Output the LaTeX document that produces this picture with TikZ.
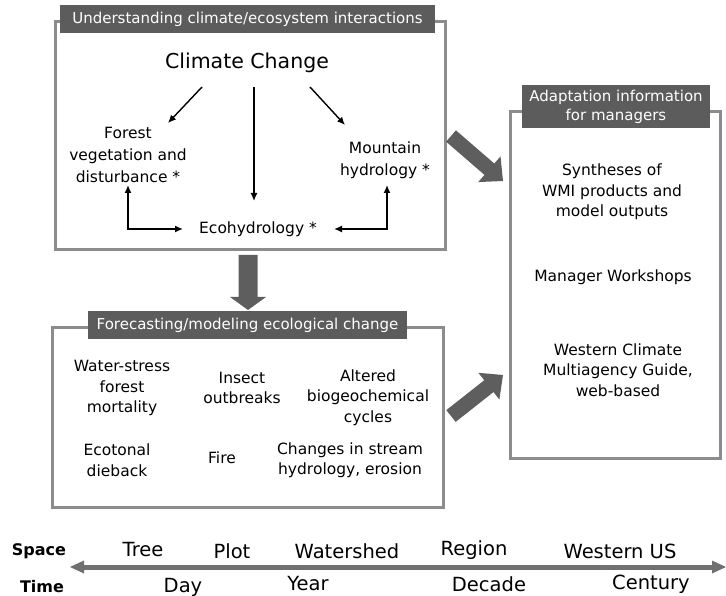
\documentclass[tikz,border=0pt]{standalone}
\usepackage{fontspec}
\setmainfont{DejaVu Sans}
\usetikzlibrary{arrows.meta,calc}
\definecolor{bordergray}{HTML}{8C8C8C}
\definecolor{bargray}{HTML}{5C5C5C}
\definecolor{arrgray}{HTML}{5E5E5E}
\definecolor{linegray}{HTML}{707070}
\newcommand\bigarr[5]{% tail, tip, shaft half width, head half width, head length
  \path ($(#2)!#5!(#1)$) coordinate (hb);
  \fill[bigarrow] ($(#1)!#3!90:(#2)$) -- ($(hb)!#3!90:(#2)$) -- ($(hb)!#4!90:(#2)$)
    -- (#2) -- ($(hb)!#4!-90:(#2)$) -- ($(hb)!#3!-90:(#2)$) -- ($(#1)!#3!-90:(#2)$) -- cycle;}
\tikzset{
  frame/.style={draw=bordergray, line width=3pt, rectangle, inner sep=0pt},
  titlebar/.style={fill=bargray, text=white, font=\fontsize{15}{19}\selectfont, align=center, inner sep=0pt},
  body/.style={font=\fontsize{15.5}{20.5}\selectfont, align=center, inner sep=0pt},
  arr/.style={line width=1.4pt, -{Latex[length=8pt,width=7pt]}},
  arrboth/.style={line width=1.4pt, {Latex[length=8pt,width=7pt]}-{Latex[length=8pt,width=7pt]}},
  bigarrow/.style={fill=arrgray},
  scaletext/.style={font=\fontsize{19.5}{22}\selectfont, inner sep=0pt},
  axislabel/.style={font=\bfseries\fontsize{16}{20}\selectfont, inner sep=0pt},
}
\begin{document}
\begin{tikzpicture}[x=1pt,y=-1pt]
\useasboundingbox (0,0) rectangle (726,596);

% ---- top box
\node[frame, minimum width=390pt, minimum height=228pt] (topbox) at (250,136) {};
\node[titlebar, minimum width=375pt, minimum height=28pt] (toptitle) at (247.5,19) {Understanding climate/ecosystem interactions};
\node[font=\fontsize{20.5}{24}\selectfont, inner sep=0pt] (cc) at (247,63) {Climate Change};
\node[body, font=\fontsize{15.5}{22}\selectfont] (forest) at (128,155) {Forest\\vegetation and\\disturbance *};
\node[body, font=\fontsize{15.5}{22}\selectfont] (mountain) at (385,160) {Mountain\\hydrology *};
\node[body] (eco) at (258,229) {Ecohydrology *};

\coordinate (ccL) at (202,87);  \coordinate (fvN) at (168,123);
\coordinate (ccM) at (254,87);  \coordinate (ecN) at (254,201);
\coordinate (ccR) at (310,87);  \coordinate (mhN) at (345,125);
\coordinate (fvS) at (128,185); \coordinate (ecW) at (183,229);
\coordinate (mhS) at (387,185); \coordinate (ecE) at (334,229);
\draw[arr] (ccL) -- (fvN);
\draw[arr] (ccM) -- (ecN);
\draw[arr] (ccR) -- (mhN);
\draw[arrboth] (fvS) |- (ecW);
\draw[arrboth] (mhS) |- (ecE);

% ---- bottom box
\node[frame, minimum width=391pt, minimum height=180pt] (botbox) at (247.5,417) {};
\node[titlebar, minimum width=319pt, minimum height=28pt] (bottitle) at (247.5,325) {Forecasting/modeling ecological change};
\node[body] (water) at (122,388) {Water-stress\\forest\\mortality};
\node[body] (insect) at (242,388) {Insect\\outbreaks};
\node[body] (altered) at (368,397.5) {Altered\\biogeochemical\\cycles};
\node[body] (ecotonal) at (117,460) {Ecotonal\\dieback};
\node[body] (fire) at (222,458) {Fire};
\node[body] (stream) at (350,460) {Changes in stream\\hydrology, erosion};

% ---- right box
\node[frame, minimum width=210pt, minimum height=346pt] (rightbox) at (615,285) {};
\node[titlebar, minimum width=188pt, minimum height=43pt] (righttitle) at (616,106.5) {Adaptation information\\for managers};
\node[body] (synth) at (612,192) {Syntheses of\\WMI products and\\model outputs};
\node[body] (workshops) at (613,277) {Manager Workshops};
\node[body] (guide) at (618,370) {Western Climate\\Multiagency Guide,\\web-based};

% ---- big arrows
\coordinate (dT) at (248,255); \coordinate (dH) at (248,310);
\bigarr{dT}{dH}{9.5pt}{18pt}{13pt}
\coordinate (uT) at (451,136); \coordinate (uH) at (503,181);
\bigarr{uT}{uH}{7.5pt}{17pt}{18pt}
\coordinate (lT) at (451,416); \coordinate (lH) at (503,375);
\bigarr{lT}{lH}{7.5pt}{17pt}{18pt}

% ---- timeline
\coordinate (tlL) at (70,567); \coordinate (tlR) at (726,567);
\draw[linegray, line width=5pt, {Triangle[length=14pt,width=13pt,line width=0pt]}-{Triangle[length=14pt,width=13pt,line width=0pt]}] (tlL) -- (tlR);
\node[axislabel] (space) at (39,551) {Space};
\node[axislabel] (time) at (42,587) {Time};
\node[scaletext] (tree) at (143,550) {Tree};
\node[scaletext] (plot) at (232,551) {Plot};
\node[scaletext] (watershed) at (347,551) {Watershed};
\node[scaletext] (region) at (474,550) {Region};
\node[scaletext] (western) at (620,551) {Western US};
\node[scaletext] (day) at (183,587) {Day};
\node[scaletext] (year) at (308,584) {Year};
\node[scaletext] (decade) at (489,584) {Decade};
\node[scaletext] (century) at (651,584) {Century};
\end{tikzpicture}
\end{document}
